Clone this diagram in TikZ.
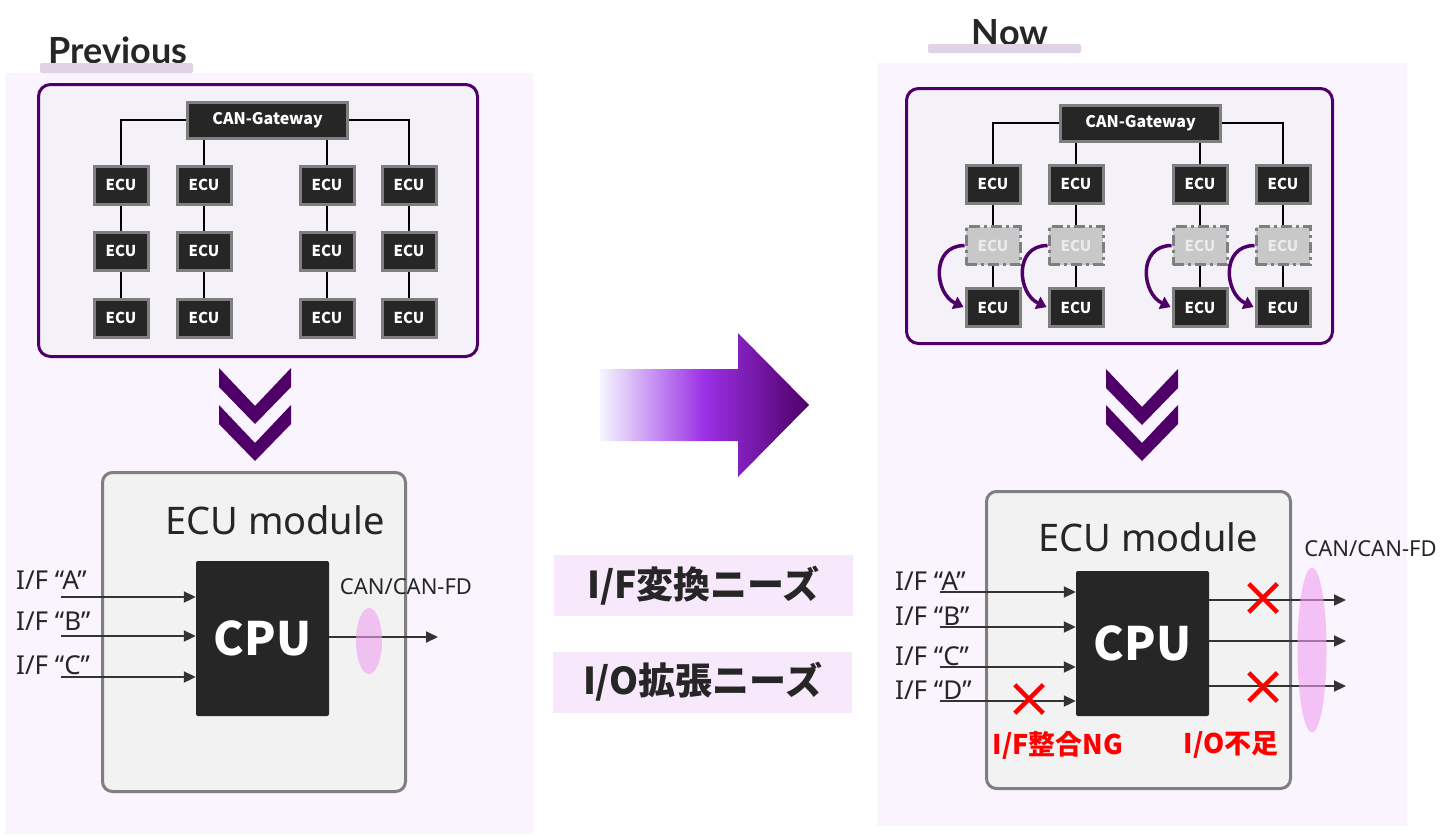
\documentclass[tikz,border=0pt]{standalone}
\usepackage{fontspec}
\setmainfont{Noto Sans}
\newfontfamily\jpfont{Noto Sans CJK JP}
\newfontfamily\titlefont{Lato}
\usetikzlibrary{arrows.meta, shapes.geometric, shapes.misc}
\definecolor{panelbg}{RGB}{249, 244, 253}
\definecolor{netbg}{RGB}{244, 242, 248}
\definecolor{deeppurple}{RGB}{78, 0, 104}
\definecolor{vivid}{RGB}{155, 48, 230}
\definecolor{arrowlight}{RGB}{246, 246, 255}
\definecolor{titlebar}{RGB}{225, 211, 230}
\definecolor{boxdark}{RGB}{38, 38, 38}
\definecolor{boxedge}{RGB}{127, 127, 127}
\definecolor{ghostfill}{RGB}{200, 200, 200}
\definecolor{modfill}{RGB}{242, 242, 242}
\definecolor{textdark}{RGB}{38, 38, 38}
\definecolor{sigline}{RGB}{51, 51, 51}
\definecolor{needbg}{RGB}{247, 232, 251}
\definecolor{busfill}{RGB}{240, 160, 240}

\begin{document}
\begin{tikzpicture}[x=1pt, y=-1pt, color=textdark,
  ecubox/.style={draw=boxedge, fill=boxdark, line width=3pt, text=white,
    font=\jpfont\fontsize{15}{15}\selectfont\bfseries, minimum width=54pt, minimum height=38pt, inner sep=0pt},
  ghostbox/.style={ecubox, fill=ghostfill, text=white!92!black, dash pattern=on 11pt off 4pt on 3pt off 4pt},
  gwbox/.style={ecubox, minimum width=160pt, minimum height=36pt, font=\jpfont\fontsize{16}{16}\selectfont\bfseries},
  netbox/.style={draw=deeppurple, fill=netbg, line width=3pt, rounded corners=12pt, inner sep=0pt},
  modbox/.style={draw=boxedge, fill=modfill, line width=3pt, rounded corners=10pt, inner sep=0pt},
  cpubox/.style={fill=boxdark, rounded corners=2pt, text=white, font=\jpfont\fontsize{46}{46}\selectfont\bfseries, inner sep=0pt},
  link/.style={draw=black, line width=1.3pt},
  sig/.style={draw=sigline, line width=2pt, -{Triangle[length=12pt, width=11pt]}},
  shiftarrow/.style={draw=deeppurple, line width=3.5pt, -{Triangle[length=10pt, width=13pt]}, shorten >=1pt},
  iflabel/.style={font=\fontsize{26}{26}\selectfont, inner sep=0pt, anchor=base west},
  buslabel/.style={font=\fontsize{22}{22}\selectfont, inner sep=0pt},
  bus/.style={ellipse, fill=busfill, fill opacity=0.6, inner sep=0pt},
  ngmark/.style={cross out, draw=red, line width=4.5pt, minimum size=24pt, inner sep=0pt},
  nglabel/.style={text=red, font=\jpfont\fontsize{27}{27}\selectfont\bfseries, inner sep=0pt},
  needbox/.style={fill=needbg, minimum width=299pt, minimum height=61pt, inner sep=0pt,
    font=\jpfont\fontsize{37}{37}\selectfont\bfseries},
  modtitle/.style={font=\fontsize{38}{38}\selectfont, inner sep=0pt, anchor=base},
  panelttl/.style={font=\titlefont\fontsize{36}{36}\selectfont\bfseries, inner sep=0pt, anchor=base}]
  \useasboundingbox (0,0) rectangle (1453,836);

  % panels
  \fill[panelbg] (5,73) rectangle (533,834);
  \fill[panelbg] (877,63) rectangle (1407,826);
  \node[panelttl] (ttlP) at (118,63) {Previous};
  \node[panelttl] (ttlN) at (1010,45) {Now};
  \fill[titlebar, rounded corners=2pt] (40,63) rectangle (193,73);
  \fill[titlebar, rounded corners=2pt] (928,44) rectangle (1081,53);

  % previous network
  \node[netbox, minimum width=439pt, minimum height=272pt] (netP) at (258,220.5) {};
  \node[gwbox] (gwP) at (267.5,120) {CAN-Gateway};
  \foreach \c/\x in {1/121, 2/204, 3/327, 4/409} {
    \foreach \r/\y in {1/185, 2/251, 3/318}
      \node[ecubox] (ecuP-\c-\r) at (\x,\y) {ECU};
    \draw[link] (ecuP-\c-1) -- (ecuP-\c-2) -- (ecuP-\c-3);
  }
  \draw[link] (gwP.west) -| (ecuP-1-1.north);
  \draw[link] (gwP.east) -| (ecuP-4-1.north);
  \draw[link] (gwP.south -| ecuP-2-1.north) -- (ecuP-2-1.north);
  \draw[link] (gwP.south -| ecuP-3-1.north) -- (ecuP-3-1.north);

  % now network
  \node[netbox, minimum width=426pt, minimum height=255pt] (netN) at (1119.5,216) {};
  \node[gwbox] (gwN) at (1140.5,123) {CAN-Gateway};
  \foreach \c/\x in {1/993, 2/1076, 3/1200, 4/1283} {
    \node[ecubox] (ecuN-\c-1) at (\x,184) {ECU};
    \node[ghostbox] (ghostN-\c) at (\x,245.5) {ECU};
    \node[ecubox] (ecuN-\c-3) at (\x,307.5) {ECU};
    \draw[link] (ecuN-\c-1) -- (ghostN-\c) -- (ecuN-\c-3);
    \draw[shiftarrow] (ghostN-\c.west) .. controls +(-34,0) and +(-30,-14) .. (ecuN-\c-3.west);
  }
  \draw[link] (gwN.west) -| (ecuN-1-1.north);
  \draw[link] (gwN.east) -| (ecuN-4-1.north);
  \draw[link] (gwN.south -| ecuN-2-1.north) -- (ecuN-2-1.north);
  \draw[link] (gwN.south -| ecuN-3-1.north) -- (ecuN-3-1.north);

  % chevrons
  \foreach \cx/\cy in {255/368, 255/405, 1142/369, 1142/405}
    \fill[deeppurple] (\cx-36,\cy) -- (\cx,\cy+38) -- (\cx+36,\cy) -- (\cx+36,\cy+19)
      -- (\cx,\cy+56) -- (\cx-36,\cy+19) -- cycle;

  % big arrow
  \shade[left color=arrowlight, right color=deeppurple, middle color=vivid]
    (600,369) -- (738,369) -- (738,333) -- (809,405) -- (738,477) -- (738,441) -- (600,441) -- cycle;
  \node[needbox] (needIF) at (703.5,585.5) {I/F変換ニーズ};
  \node[needbox] (needIO) at (702.5,682) {I/O拡張ニーズ};

  % previous module
  \node[modbox, minimum width=303pt, minimum height=319pt] (modP) at (254,632) {};
  \node[modtitle] (mttlP) at (275,534) {ECU module};
  \node[cpubox, minimum width=133pt, minimum height=155pt] (cpuP) at (262.5,638.5) {CPU};
  \foreach \k/\ya/\yt in {A/597/589, B/636/630, C/677/674} {
    \coordinate (inP\k) at (61,\ya);
    \node[iflabel] (ifP\k) at (16,\yt) {I/F “\k”};
    \draw[sig] (inP\k) -- (inP\k -| cpuP.west);
  }
  \coordinate (outP) at (438,637);
  \draw[sig] (cpuP.east |- outP) -- (outP);
  \node[bus, minimum width=26pt, minimum height=66pt] (busP) at (369,641) {};
  \node[buslabel] (canP) at (406,587) {CAN/CAN-FD};

  % now module
  \node[modbox, minimum width=304pt, minimum height=297pt] (modN) at (1138.5,640) {};
  \node[modtitle] (mttlN) at (1148,551) {ECU module};
  \node[cpubox, minimum width=133pt, minimum height=145pt] (cpuN) at (1142.5,643.5) {CPU};
  \foreach \k/\ya/\yt in {A/592/590, B/627/625, C/667/665, D/701/699} {
    \coordinate (inN\k) at (940,\ya);
    \node[iflabel] (ifN\k) at (895,\yt) {I/F “\k”};
    \draw[sig] (inN\k) -- (inN\k -| cpuN.west);
  }
  \foreach \k/\yo in {1/600, 2/641, 3/686} {
    \coordinate (outN\k) at (1346,\yo);
    \draw[sig] (cpuN.east |- outN\k) -- (outN\k);
  }
  \node[bus, minimum width=29pt, minimum height=165pt] (busN) at (1312,650) {};
  \node[buslabel] (canN) at (1370.5,548.5) {CAN/CAN-FD};
  \node[ngmark] (ngD) at (1029,699) {};
  \node[ngmark] (ngO1) at (1263,598) {};
  \node[ngmark] (ngO3) at (1263,687) {};
  \node[nglabel] (ngIF) at (1058,745) {I/F整合NG};
  \node[nglabel] (ngIO) at (1231,745) {I/O不足};
\end{tikzpicture}
\end{document}
